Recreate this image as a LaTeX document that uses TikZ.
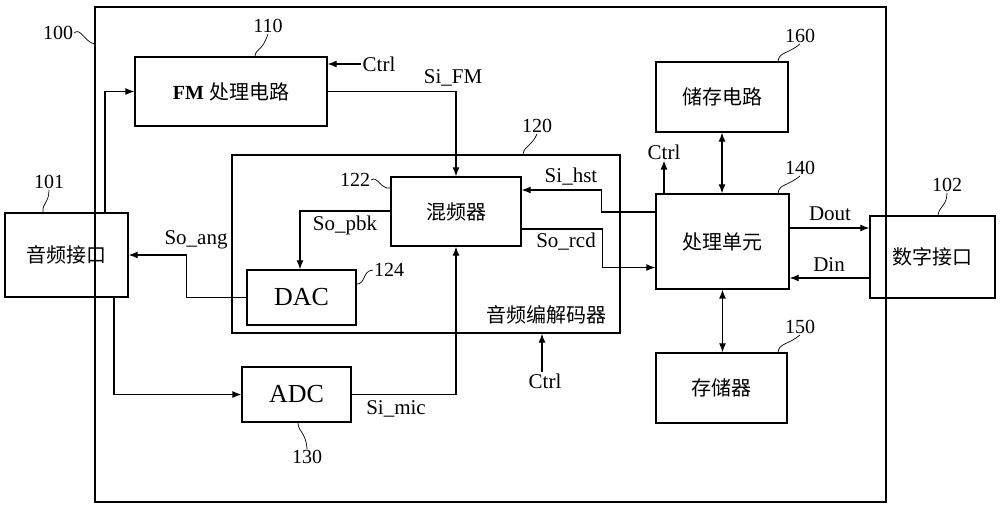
\documentclass[tikz,border=0pt]{standalone}
\usepackage{fontspec}
\setmainfont{Liberation Serif}
\newfontfamily\cjk{Noto Sans CJK SC}
\usetikzlibrary{arrows.meta,calc}
\tikzset{
  box/.style={draw, line width=1.4pt, inner sep=0pt},
  sig/.style={line width=1.1pt},
  arr/.style={sig, -{Latex[length=9pt,width=7pt]}},
  dbl/.style={sig, {Latex[length=9pt,width=7pt]}-{Latex[length=9pt,width=7pt]}},
  lbl/.style={font=\fontsize{21}{21}\selectfont, inner sep=1pt},
  big/.style={font=\fontsize{26}{26}\selectfont},
  num/.style={font=\fontsize{20}{20}\selectfont, inner sep=1pt},
  zh/.style={font=\fontsize{20}{20}\selectfont\cjk},
  lead/.style={line width=0.7pt}
}
\begin{document}
\begin{tikzpicture}[x=1pt,y=-1pt]
\useasboundingbox (0,0) rectangle (1000,511);
% outer system box
\node[box, line width=1.5pt, minimum width=791pt, minimum height=495pt] (sys) at (490.5,254.5) {};
% blocks
\node[box, minimum width=192pt, minimum height=69pt, font=\fontsize{20}{20}\selectfont] (fm) at (231,91.5) {\textbf{FM} {\cjk 处理电路}};
\node[box, minimum width=388pt, minimum height=178pt] (codec) at (426,244) {};
\node[zh] (codeclbl) at (546,315) {音频编解码器};
\node[box, zh, minimum width=130pt, minimum height=69pt] (mixer) at (456,211.5) {混频器};
\node[box, big, minimum width=109pt, minimum height=55pt] (dac) at (301.5,297.5) {DAC};
\node[box, big, minimum width=109pt, minimum height=55pt] (adc) at (296.5,394.5) {ADC};
\node[box, zh, minimum width=133pt, minimum height=95pt] (proc) at (722.5,241.5) {处理单元};
\node[box, zh, minimum width=132pt, minimum height=70pt] (stor) at (722,97) {储存电路};
\node[box, zh, minimum width=131pt, minimum height=70pt] (mem) at (721.5,388) {存储器};
\node[box, zh, minimum width=125pt, minimum height=82pt] (dig) at (932.5,257) {数字接口};
\node[box, zh, minimum width=123pt, minimum height=84pt] (aud) at (66.5,255) {音频接口};
% control labels
\node[lbl] (ctrlfm) at (379,64) {Ctrl};
\node[lbl] (ctrlpu) at (664,152) {Ctrl};
\node[lbl] (ctrlcd) at (545,381) {Ctrl};
% connectors
\draw[arr] ([xshift=38.5pt]aud.north) |- (fm.west);
\draw[arr] (ctrlfm.west) -- (ctrlfm.west -| fm.east);
\draw[arr] (fm.east) -| (mixer.north);
\draw[arr] ($(mixer.west)+(0,-0.5)$) -| ([xshift=-1.5pt]dac.north);
\draw[arr] (dac.west) -- ++(-60,0) |- (aud.east);
\draw[arr] ([xshift=47.5pt]aud.south) |- (adc.west);
\draw[arr] (adc.east) -| (mixer.south);
\draw[arr] (ctrlcd.north -| 542,0) -- (codec.south -| 542,0);
\draw[arr] ($(proc.west)+(0,-29.5)$) -- ++(-54,0) |- ($(mixer.east)+(0,-21.5)$);
\draw[arr] ($(mixer.east)+(0,17.5)$) -- ++(81,0) |- ($(proc.west)+(0,26)$);
\draw[arr] (proc.north -| ctrlpu.south) -- (ctrlpu.south);
\draw[dbl] (stor.south) -- (stor.south |- proc.north);
\draw[dbl] (proc.south) -- (proc.south |- mem.north);
\coordinate (dout) at ($(proc.east)+(0,-13.5)$);
\coordinate (din) at ($(proc.east)+(0,36.5)$);
\draw[arr] (dout) -- (dout -| dig.west);
\draw[arr] (din -| dig.west) -- (din);
% signal labels
\node[lbl] at (453,78) {Si\_FM};
\node[lbl] at (345,225) {So\_pbk};
\node[lbl] at (571,177) {Si\_hst};
\node[lbl] at (566,242) {So\_rcd};
\node[lbl] at (196,240) {So\_ang};
\node[lbl] at (396,409) {Si\_mic};
\node[lbl] at (830,214) {Dout};
\node[lbl] at (829,265) {Din};
% reference numbers with leaders
\node[num] (n100) at (58,33) {100};
\draw[lead] (n100.east) .. controls (80,27) and (84,41) .. (sys.west |- 0,44);
\node[num] (n110) at (268,26) {110};
\draw[lead] (fm.north -| 255,0) .. controls (256,48) and (262,52) .. (n110.south);
\node[num] (n120) at (537,126) {120};
\draw[lead] (codec.north -| 523,0) .. controls (524,146) and (532,146) .. (n120.south);
\node[num] (n122) at (355,180) {122};
\draw[lead] (n122.east) .. controls (377,175) and (381,190) .. (mixer.west |- 0,188);
\node[num] (n124) at (389,270) {124};
\draw[lead] (dac.east |- 0,284) .. controls (366,284) and (362,271) .. (n124.west);
\node[num] (n130) at (307,457) {130};
\draw[lead] (adc.south -| 298,0) .. controls (298,432) and (306,432) .. (n130.north);
\node[num] (n140) at (800,168) {140};
\draw[lead] (proc.north -| 778,0) .. controls (779,184) and (788,186) .. (n140.south);
\node[num] (n150) at (800,327) {150};
\draw[lead] (mem.north -| 778,0) .. controls (779,343) and (788,345) .. (n150.south);
\node[num] (n160) at (800,36) {160};
\draw[lead] (stor.north -| 778,0) .. controls (779,52) and (788,54) .. (n160.south);
\node[num] (n101) at (49,182) {101};
\draw[lead] (aud.north -| 43,0) .. controls (42,203) and (49,203) .. (n101.south);
\node[num] (n102) at (947,185) {102};
\draw[lead] (dig.north -| 938,0) .. controls (939,206) and (947,206) .. (n102.south);
\end{tikzpicture}
\end{document}
